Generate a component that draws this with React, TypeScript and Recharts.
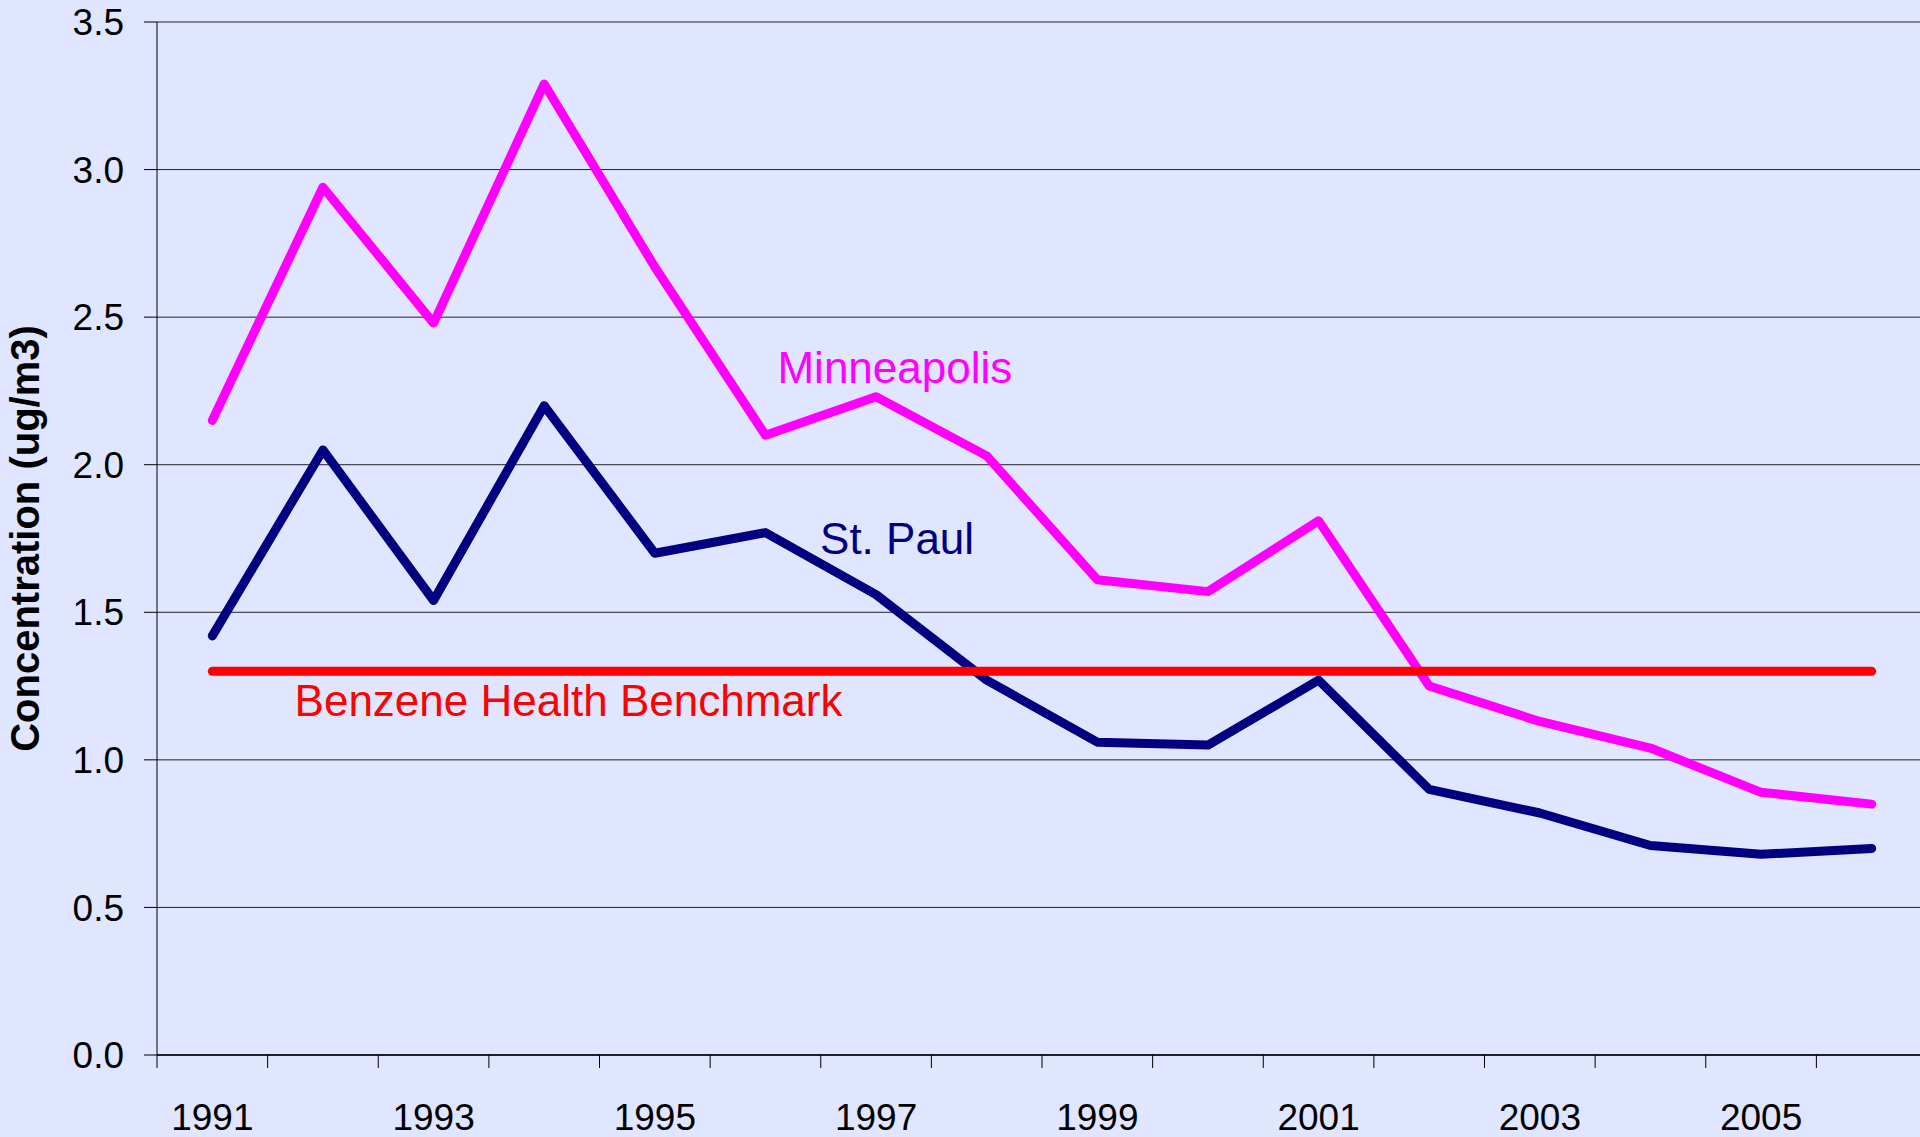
import React from 'react';
import { LineChart, Line, XAxis, YAxis, CartesianGrid, ReferenceDot } from 'recharts';

const years = [1991, 1992, 1993, 1994, 1995, 1996, 1997, 1998, 1999, 2000, 2001, 2002, 2003, 2004, 2005, 2006];
const minneapolis = [2.15, 2.94, 2.48, 3.29, 2.67, 2.1, 2.23, 2.03, 1.61, 1.57, 1.81, 1.25, 1.13, 1.04, 0.89, 0.85];
const stPaul = [1.42, 2.05, 1.54, 2.2, 1.7, 1.77, 1.56, 1.27, 1.06, 1.05, 1.27, 0.9, 0.82, 0.71, 0.68, 0.7];
const benchmark = [1.3, 1.3, 1.3, 1.3, 1.3, 1.3, 1.3, 1.3, 1.3, 1.3, 1.3, 1.3, 1.3, 1.3, 1.3, 1.3];

const labelYears = [1991, 1993, 1995, 1997, 1999, 2001, 2003, 2005];
const yTicks = [0, 0.5, 1, 1.5, 2, 2.5, 3, 3.5];

const data = years.map((year, i) => ({
  year,
  minneapolis: minneapolis[i],
  stPaul: stPaul[i],
  benchmark: benchmark[i],
}));

const BG = '#E0E6FF';
const FONT = '"Liberation Sans", Arial, sans-serif';

const CHART_W = 1927;
const PLOT_LEFT = 157;
// half a category width, so tick marks fall between the years (Excel style)
const HALF_STEP = (CHART_W - PLOT_LEFT) / years.length / 2;

const YearTick = (props: any) => {
  const { x, y, payload } = props;
  const year = payload.value;
  const last = year === years[years.length - 1];
  return (
    <g>
      <line x1={x - HALF_STEP} x2={x - HALF_STEP} y1={y} y2={y + 13} stroke="#000" />
      {last && <line x1={x + HALF_STEP} x2={x + HALF_STEP} y1={y} y2={y + 13} stroke="#000" />}
      {labelYears.includes(year) && (
        <text x={x} y={y + 75} textAnchor="middle" fontSize={37} fontFamily={FONT} fill="#000">
          {year}
        </text>
      )}
    </g>
  );
};

const YTitle = (props: any) => {
  const { viewBox } = props;
  const cx = 25;
  const cy = viewBox.y + viewBox.height / 2;
  return (
    <text
      x={cx}
      y={cy}
      transform={`rotate(-90, ${cx}, ${cy})`}
      textAnchor="middle"
      dominantBaseline="central"
      fontSize={40}
      fontWeight="bold"
      fontFamily={FONT}
      fill="#000"
    >
      Concentration (ug/m3)
    </text>
  );
};

const tag = (value: string, color: string) => ({
  value,
  position: 'center' as const,
  fill: color,
  fontSize: 44,
  fontFamily: FONT,
});

export default function App() {
  return (
    <div
      style={{
        position: 'absolute',
        left: 0,
        top: 0,
        width: 1920,
        height: 1137,
        overflow: 'hidden',
        background: BG,
        fontFamily: FONT,
      }}
    >
      <LineChart width={CHART_W} height={1137} data={data} margin={{ top: 22, right: 0, left: 0, bottom: 0 }}>
        <CartesianGrid vertical={false} stroke="#222" />
        <XAxis
          dataKey="year"
          type="number"
          domain={[1990.5, 2006.5]}
          ticks={years}
          interval={0}
          tickSize={0}
          tickMargin={0}
          height={82}
          axisLine={{ stroke: '#000', strokeWidth: 1.5 }}
          tickLine={false}
          tick={<YearTick />}
          allowDataOverflow
        />
        <YAxis
          domain={[0, 3.5]}
          ticks={yTicks}
          width={PLOT_LEFT}
          tickSize={13}
          tickMargin={20}
          interval={0}
          tickFormatter={(v: number) => v.toFixed(1)}
          tick={{ fontSize: 37, fill: '#000', fontFamily: FONT }}
          axisLine={{ stroke: '#000' }}
          tickLine={{ stroke: '#000' }}
          label={<YTitle />}
        />
        <Line
          type="linear"
          dataKey="minneapolis"
          stroke="#FF00FF"
          strokeWidth={9}
          strokeLinecap="round"
          strokeLinejoin="round"
          dot={false}
          isAnimationActive={false}
        />
        <Line
          type="linear"
          dataKey="stPaul"
          stroke="#000080"
          strokeWidth={9}
          strokeLinecap="round"
          strokeLinejoin="round"
          dot={false}
          isAnimationActive={false}
        />
        <Line
          type="linear"
          dataKey="benchmark"
          stroke="#FF0000"
          strokeWidth={9}
          strokeLinecap="round"
          dot={false}
          isAnimationActive={false}
        />
        <ReferenceDot x={1997.17} y={2.33} r={0} stroke="none" fill="none" label={tag('Minneapolis', '#FF00FF')} />
        <ReferenceDot x={1997.19} y={1.75} r={0} stroke="none" fill="none" label={tag('St. Paul', '#000080')} />
        <ReferenceDot x={1994.22} y={1.2} r={0} stroke="none" fill="none" label={tag('Benzene Health Benchmark', '#FF0000')} />
      </LineChart>
    </div>
  );
}
